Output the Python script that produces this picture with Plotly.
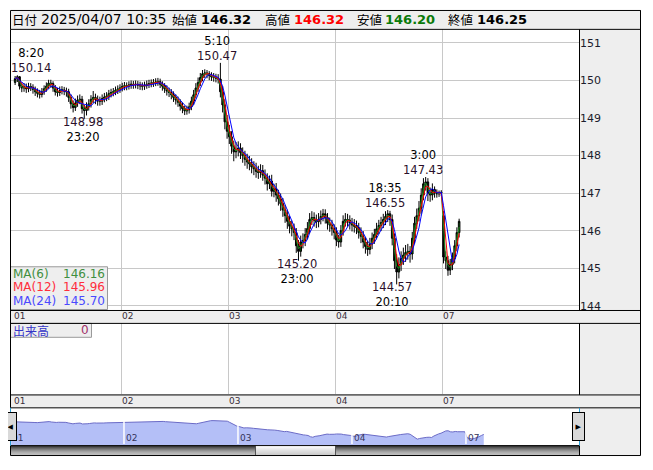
import plotly.graph_objects as go
import pandas as pd

# page has an 8px body margin; figure sized to fit inside the 653x470 window
W, H = 637, 454
OX, OY = 8, 8

# ---------------- data (30-minute bars, USD/JPY, 2025/04/01 07:00 - 04/07 10:35) -------------
opens = [
    149.95, 150.05, 150.10, 149.85, 149.80, 149.83, 149.78, 149.84, 149.82, 149.76, 149.70, 149.66, 149.63, 149.70, 149.78, 149.85,
    149.93, 149.92, 149.80, 149.70, 149.68, 149.73, 149.75, 149.72, 149.70, 149.55, 149.38, 149.28, 149.40, 149.48, 149.50, 149.25,
    149.20, 149.30, 149.38, 149.50, 149.55, 149.50, 149.45, 149.45, 149.52, 149.56, 149.58, 149.65, 149.68, 149.70, 149.74, 149.77,
    149.80, 149.84, 149.86, 149.85, 149.88, 149.90, 149.89, 149.90, 149.88, 149.86, 149.85, 149.87, 149.90, 149.92, 149.93, 149.94,
    149.96, 149.97, 149.90, 149.85, 149.78, 149.72, 149.68, 149.62, 149.55, 149.48, 149.42, 149.32, 149.25, 149.19, 149.22, 149.30,
    149.45, 149.62, 149.80, 149.95, 150.08, 150.18, 150.20, 150.18, 150.13, 150.10, 150.08, 150.06, 150.04, 149.70, 149.35, 148.90,
    148.65, 148.50, 148.25, 148.10, 148.15, 148.20, 148.08, 148.00, 147.90, 147.83, 147.78, 147.70, 147.65, 147.58, 147.55, 147.60,
    147.48, 147.40, 147.25, 147.32, 147.05, 147.12, 146.95, 146.85, 146.72, 146.55, 146.40, 146.25, 146.12, 146.05, 145.95, 145.60,
    145.45, 145.70, 145.74, 145.90, 146.06, 146.30, 146.35, 146.28, 146.24, 146.30, 146.38, 146.45, 146.35, 146.20, 146.15, 146.05,
    145.95, 145.75, 145.70, 146.00, 146.25, 146.30, 146.28, 146.20, 146.15, 146.12, 146.08, 145.95, 145.85, 145.70, 145.58, 145.50,
    145.65, 145.80, 145.90, 146.05, 146.14, 146.22, 146.30, 146.38, 146.45, 146.30, 145.80, 145.20, 144.90, 145.10, 145.26, 145.35,
    145.42, 145.45, 145.38, 145.80, 146.20, 146.40, 146.60, 146.95, 147.25, 147.30, 147.00, 146.95, 147.10, 147.02, 146.98, 147.00,
    146.40, 145.30, 145.20, 144.95, 145.10, 145.26, 145.60, 145.95,
]
highs = [
    150.12, 150.14, 150.12, 149.95, 149.93, 149.92, 149.94, 149.93, 149.90, 149.84, 149.79, 149.75, 149.80, 149.87, 149.95, 150.02,
    150.02, 149.98, 149.88, 149.80, 149.84, 149.85, 149.83, 149.81, 149.78, 149.63, 149.47, 149.52, 149.60, 149.63, 149.59, 149.35,
    149.42, 149.50, 149.61, 149.72, 149.65, 149.60, 149.57, 149.63, 149.67, 149.69, 149.75, 149.78, 149.80, 149.84, 149.87, 149.90,
    149.94, 149.96, 149.95, 149.98, 150.00, 149.99, 150.00, 149.99, 149.97, 149.95, 149.97, 150.00, 150.02, 150.03, 150.04, 150.06,
    150.07, 150.05, 149.98, 149.93, 149.87, 149.81, 149.77, 149.71, 149.63, 149.57, 149.50, 149.41, 149.33, 149.33, 149.41, 149.57,
    149.75, 149.93, 150.08, 150.20, 150.28, 150.30, 150.28, 150.25, 150.22, 150.20, 150.18, 150.17, 150.47, 149.85, 149.50, 149.08,
    148.82, 148.65, 148.40, 148.36, 148.38, 148.33, 148.22, 148.13, 148.05, 147.99, 147.93, 147.85, 147.81, 147.73, 147.77, 147.75,
    147.63, 147.53, 147.47, 147.49, 147.25, 147.27, 147.09, 146.99, 146.87, 146.69, 146.56, 146.39, 146.27, 146.19, 146.07, 145.75,
    145.87, 145.93, 146.07, 146.23, 146.47, 146.52, 146.49, 146.43, 146.47, 146.54, 146.58, 146.57, 146.47, 146.35, 146.29, 146.17,
    146.09, 145.89, 146.15, 146.41, 146.47, 146.45, 146.41, 146.34, 146.31, 146.27, 146.21, 146.09, 145.99, 145.83, 145.73, 145.81,
    145.95, 146.05, 146.21, 146.29, 146.37, 146.45, 146.52, 146.55, 146.53, 146.43, 145.93, 145.37, 145.29, 145.45, 145.55, 145.62,
    145.65, 145.59, 145.97, 146.37, 146.59, 146.79, 147.13, 147.40, 147.43, 147.40, 147.15, 147.26, 147.18, 147.10, 147.07, 147.08,
    146.52, 145.45, 145.33, 145.25, 145.42, 145.75, 146.09, 146.32,
]
lows = [
    149.88, 149.96, 149.76, 149.69, 149.70, 149.67, 149.69, 149.72, 149.65, 149.59, 149.55, 149.52, 149.55, 149.62, 149.70, 149.78,
    149.81, 149.70, 149.60, 149.57, 149.59, 149.63, 149.61, 149.57, 149.43, 149.25, 149.15, 149.19, 149.30, 149.37, 149.12, 148.98,
    149.07, 149.20, 149.28, 149.40, 149.37, 149.33, 149.33, 149.35, 149.42, 149.45, 149.48, 149.55, 149.58, 149.61, 149.64, 149.67,
    149.71, 149.74, 149.74, 149.76, 149.78, 149.78, 149.79, 149.77, 149.75, 149.74, 149.75, 149.78, 149.80, 149.82, 149.83, 149.85,
    149.86, 149.80, 149.73, 149.67, 149.60, 149.56, 149.50, 149.43, 149.36, 149.30, 149.20, 149.13, 149.08, 149.09, 149.12, 149.21,
    149.35, 149.52, 149.70, 149.85, 149.98, 150.07, 150.06, 150.01, 149.99, 149.97, 149.95, 149.92, 149.55, 149.15, 148.70, 148.45,
    148.31, 148.05, 147.85, 147.93, 147.98, 147.91, 147.81, 147.73, 147.65, 147.61, 147.53, 147.48, 147.41, 147.38, 147.41, 147.33,
    147.23, 147.07, 147.11, 146.91, 146.89, 146.77, 146.67, 146.53, 146.37, 146.21, 146.05, 145.93, 145.85, 145.75, 145.41, 145.20,
    145.31, 145.53, 145.59, 145.77, 145.93, 146.15, 146.11, 146.07, 146.09, 146.17, 146.25, 146.19, 146.03, 145.97, 145.87, 145.77,
    145.59, 145.55, 145.57, 145.87, 146.11, 146.11, 146.03, 145.98, 145.95, 145.91, 145.79, 145.67, 145.53, 145.39, 145.33, 145.37,
    145.51, 145.65, 145.77, 145.91, 145.99, 146.07, 146.15, 146.23, 146.13, 145.61, 144.98, 144.57, 144.73, 144.93, 145.09, 145.17,
    145.23, 145.15, 145.23, 145.65, 146.05, 146.25, 146.45, 146.81, 147.07, 146.79, 146.77, 146.81, 146.88, 146.88, 146.90, 146.92,
    145.13, 144.98, 144.80, 144.82, 144.95, 145.13, 145.45, 145.82,
]
closes = [
    150.05, 150.10, 149.85, 149.80, 149.83, 149.78, 149.84, 149.82, 149.76, 149.70, 149.66, 149.63, 149.70, 149.78, 149.85, 149.93,
    149.92, 149.80, 149.70, 149.68, 149.73, 149.75, 149.72, 149.70, 149.55, 149.38, 149.28, 149.40, 149.48, 149.50, 149.25, 149.20,
    149.30, 149.38, 149.50, 149.55, 149.50, 149.45, 149.45, 149.52, 149.56, 149.58, 149.65, 149.68, 149.70, 149.74, 149.77, 149.80,
    149.84, 149.86, 149.85, 149.88, 149.90, 149.89, 149.90, 149.88, 149.86, 149.85, 149.87, 149.90, 149.92, 149.93, 149.94, 149.96,
    149.97, 149.90, 149.85, 149.78, 149.72, 149.68, 149.62, 149.55, 149.48, 149.42, 149.32, 149.25, 149.19, 149.22, 149.30, 149.45,
    149.62, 149.80, 149.95, 150.08, 150.18, 150.20, 150.18, 150.13, 150.10, 150.08, 150.06, 150.04, 149.70, 149.35, 148.90, 148.65,
    148.50, 148.25, 148.10, 148.15, 148.20, 148.08, 148.00, 147.90, 147.83, 147.78, 147.70, 147.65, 147.58, 147.55, 147.60, 147.48,
    147.40, 147.25, 147.32, 147.05, 147.12, 146.95, 146.85, 146.72, 146.55, 146.40, 146.25, 146.12, 146.05, 145.95, 145.60, 145.45,
    145.70, 145.74, 145.90, 146.06, 146.30, 146.35, 146.28, 146.24, 146.30, 146.38, 146.45, 146.35, 146.20, 146.15, 146.05, 145.95,
    145.75, 145.70, 146.00, 146.25, 146.30, 146.28, 146.20, 146.15, 146.12, 146.08, 145.95, 145.85, 145.70, 145.58, 145.50, 145.65,
    145.80, 145.90, 146.05, 146.14, 146.22, 146.30, 146.38, 146.45, 146.30, 145.80, 145.20, 144.90, 145.10, 145.26, 145.35, 145.42,
    145.45, 145.38, 145.80, 146.20, 146.40, 146.60, 146.95, 147.25, 147.30, 147.00, 146.95, 147.10, 147.02, 146.98, 147.00, 147.02,
    145.30, 145.20, 144.95, 145.10, 145.26, 145.60, 145.95, 146.25,
]
assert len(opens) == len(highs) == len(lows) == len(closes) == 200

BAR_HOURS = 0.5                      # 30-minute bars, trading hours counted from 04/01 07:00 (weekend skipped)
day_labels = ["01", "02", "03", "04", "07"]
day_starts = [0, 24, 48, 72, 96]      # session hour where each day begins
price_ticks = [144, 145, 146, 147, 148, 149, 150, 151]

# moving averages (periods in 5-minute bars in the label; windows in 30-minute bars used here)
ma_names = ["MA(6)", "MA(12)", "MA(24)"]
ma_windows = [2, 3, 5]
ma_colors = ["#1e8c1e", "#ff0000", "#0000ff"]
ma_text_colors = ["#3f8f3f", "#ff2d3c", "#4a4aff"]
ma_last = ["146.16", "145.96", "145.70"]

# header (last 5-minute bar)
hdr_date = "2025/04/07 10:35"
hdr_open, hdr_high, hdr_low, hdr_close = "146.32", "146.32", "146.20", "146.25"

# labelled extremes: (time text, price, kind)
extremes = [("8:20", 150.14, "high"), ("23:20", 148.98, "low"), ("5:10", 150.47, "high"),
            ("23:00", 145.20, "low"), ("18:35", 146.55, "high"), ("20:10", 144.57, "low"),
            ("3:00", 147.43, "high")]
extreme_xshift = [14, -1, -3, -1.5, -3, -4.5, -3]

# ---------------- helpers (x, y given in window pixels) ---------------------------------------------------------
def px(x):
    return (x - OX) / W

def py(y):
    return 1 - (y - OY) / H

bar_t = [BAR_HOURS * i + BAR_HOURS / 2 for i in range(len(closes))]
cs = pd.Series(closes)

FONT = "DejaVu Sans"
JP = "Noto Sans CJK JP"
GRID = "#c8c8c8"
PANEL = "#eeeeee"

fig = go.Figure()

fig.add_trace(go.Candlestick(
    x=bar_t, open=opens, high=highs, low=lows, close=closes,
    increasing=dict(line=dict(color="#000000", width=1), fillcolor="#0b6e0b"),
    decreasing=dict(line=dict(color="#000000", width=1), fillcolor="#000000"),
    whiskerwidth=0, showlegend=False, hoverinfo="skip", xaxis="x", yaxis="y"))

for name, win, col in zip(ma_names, ma_windows, ma_colors):
    fig.add_trace(go.Scatter(x=bar_t, y=cs.rolling(win, min_periods=1).mean(), mode="lines",
                             line=dict(color=col, width=1), name=name, showlegend=False,
                             hoverinfo="skip", xaxis="x", yaxis="y"))

# volume panel (no volume for FX)
fig.add_trace(go.Scatter(x=[], y=[], mode="lines", showlegend=False, xaxis="x2", yaxis="y2"))

# navigator
fig.add_trace(go.Scatter(x=bar_t, y=closes, mode="lines", fill="tozeroy", fillcolor="#b4bff7",
                         line=dict(color="#6b6bc6", width=1), showlegend=False, hoverinfo="skip",
                         xaxis="x3", yaxis="y3"))

# ---------------- layout ---------------------------------------------------------------------------------------
X0, X1 = 11, 579
T_PER_PX = 24 / 107.1
t_left = -(14 - X0) * T_PER_PX
t_right = (X1 - 14) * T_PER_PX
Y_TOP, Y_BOT = 29, 312
P_PER_PX = 1 / 37.8
p_top = 150 + (81 - Y_TOP) * P_PER_PX
p_bot = 150 - (Y_BOT - 81) * P_PER_PX

common_x = dict(range=[t_left, t_right], tickvals=day_starts[1:], showgrid=True, gridcolor=GRID,
                gridwidth=1, showticklabels=False, ticks="", zeroline=False, showline=False,
                fixedrange=True)

shapes = []

def rect(x0, y0, x1, y1, fill, line=None, lw=1, layer="below"):
    shapes.append(dict(type="rect", xref="paper", yref="paper", x0=px(x0), x1=px(x1),
                       y0=py(y0), y1=py(y1), fillcolor=fill, layer=layer,
                       line=dict(color=line or "rgba(0,0,0,0)", width=lw if line else 0)))

def hline(y, x0, x1, color="#000", lw=1):
    shapes.append(dict(type="line", xref="paper", yref="paper", x0=px(x0), x1=px(x1),
                       y0=py(y), y1=py(y), line=dict(color=color, width=lw), layer="above"))

def vline(x, y0, y1, color="#000", lw=1):
    shapes.append(dict(type="line", xref="paper", yref="paper", x0=px(x), x1=px(x),
                       y0=py(y0), y1=py(y1), line=dict(color=color, width=lw), layer="above"))

# gray panels
rect(10, 10, 640, 29, PANEL)
rect(579, 29, 640, 312, PANEL)
rect(10, 312, 640, 325, PANEL)
rect(579, 325, 640, 397, PANEL)
rect(10, 397, 640, 410, PANEL)
rect(579, 410, 640, 458, PANEL)

# navigator day separators
for d in day_starts[1:]:
    shapes.append(dict(type="line", xref="x3", yref="paper", x0=d, x1=d, y0=py(447), y1=py(411),
                       line=dict(color="#ffffff", width=1.5), layer="above"))

# scrollbar
sb_cols = ["#3c3c3c", "#555555", "#6a6a6a", "#7e7e7e", "#909090", "#a0a0a0", "#adadad", "#b6b6b6", "#bcbcbc"]
for i, c in enumerate(sb_cols):
    rect(10.5, 449 + i, 579, 450 + i, c, layer="above")
th_cols = ["#ffffff", "#f6f6f6", "#eeeeee", "#e8e8e8", "#e2e2e2", "#dddddd", "#d8d8d8", "#d2d2d2", "#cccccc"]
for i, c in enumerate(th_cols):
    rect(255, 449 + i, 335, 450 + i, c, layer="above")
vline(255.5, 448.5, 458, "#555555")
vline(335.5, 448.5, 458, "#555555")

# MA legend box + volume label box
rect(10.5, 268.5, 107.5, 311.5, "#eeeeee", line="#9a9a9a", layer="above")
rect(10.5, 325.5, 91.5, 339.5, "#eeeeee", line="#9a9a9a", layer="above")

# borders
shapes.append(dict(type="rect", xref="paper", yref="paper", x0=px(10.5), x1=px(640.5), y0=py(10.5),
                   y1=py(29.5), line=dict(color="#000", width=1), layer="above"))
vline(10.5, 29.5, 410.5)
vline(640.5, 10.5, 458.5)
vline(579.5, 29.5, 312.5)
vline(579.5, 325.5, 397.5)
for yy in (312.5, 325.5, 397.5, 410.5, 458.5):
    hline(yy, 10.5, 640.5)
hline(448.5, 10.5, 579.5)
vline(579.5, 448.5, 458.5)
vline(10.5, 448.5, 458.5)
vline(579.5, 410.5, 448.5, "#2a9fd6")
vline(10.5, 410.5, 448.5, "#2a9fd6")

# ---------------- annotations ----------------------------------------------------------------------------------
ann = []

def text(x, y, s, size=12, color="#000", family=FONT, anchor="left", bold=False):
    if bold:
        s = "<b>" + s + "</b>"
    ann.append(dict(x=px(x), y=py(y), xref="paper", yref="paper", text=s, showarrow=False,
                    xanchor=anchor, yanchor="middle", font=dict(family=family, size=size, color=color),
                    borderpad=0))

# header
HY = 19.5
text(11, HY, "日付", 12.5, family=JP)
text(40, HY, hdr_date, 14)
text(171, HY, "始値", 12.5, family=JP)
text(200, HY, hdr_open, 13, bold=True)
text(264, HY, "高値", 12.5, family=JP)
text(293, HY, hdr_high, 13, color="#ff0000", bold=True)
text(356, HY, "安値", 12.5, family=JP)
text(384, HY, hdr_low, 13, color="#0a7a0a", bold=True)
text(447, HY, "終値", 12.5, family=JP)
text(476, HY, hdr_close, 13, bold=True)

# MA legend
for i, (nm, val, col) in enumerate(zip(ma_names, ma_last, ma_text_colors)):
    yy = 275.5 + i * 13.6
    text(11.5, yy, nm, 12, col)
    text(106, yy, val, 12, col, anchor="right")

# volume label
text(11.5, 332.5, "出来高", 12, "#3535c8", family=JP)
text(90, 332.5, "0", 12, "#a0306a", anchor="right")

# date strips
for lab, d in zip(day_labels, day_starts):
    for yy in (318.5, 403.5):
        ann.append(dict(x=d, y=py(yy), xref="x", yref="paper", text=lab, showarrow=False,
                        xanchor="left", yanchor="middle", xshift=-1 if d == 0 else 0,
                        font=dict(family=FONT, size=9, color="#3a2f3a"), borderpad=0))
    ann.append(dict(x=d, y=py(440.5), xref="x3", yref="paper", text=lab, showarrow=False,
                    xanchor="left", yanchor="middle", xshift=1,
                    font=dict(family=FONT, size=9, color="#34345a"), borderpad=0))

# extreme labels (time + price as one two-line label)
for (tm, price, kind), xs in zip(extremes, extreme_xshift):
    idx = highs.index(price) if kind == "high" else lows.index(price)
    t = bar_t[idx]
    p_txt = f"<span style='color:#2a102a'>{price:.2f}</span>"
    if kind == "high":
        s, ys = f"{tm}<br>{p_txt}", 14.5
    else:
        s, ys = f"{p_txt}<br>{tm}", -10.5
    ann.append(dict(x=t, y=price, xref="x", yref="y", text=s, showarrow=False, xanchor="center",
                    yanchor="middle", xshift=xs, yshift=ys, align="center",
                    font=dict(family=FONT, size=11.5, color="#000"), borderpad=0))

# navigator buttons (drawn last so they cover the labels beneath)
for cx, sym in ((10.5, "◀"), (578.5, "▶")):
    ann.append(dict(x=px(cx), y=py(429.5), xref="paper", yref="paper", text=sym, showarrow=False,
                    xanchor="center", yanchor="middle", width=11, height=27, borderpad=0,
                    bgcolor="#d9d9d9", bordercolor="#000000", borderwidth=1,
                    font=dict(family=FONT, size=7, color="#000")))

fig.update_layout(
    width=W, height=H, margin=dict(l=0, r=0, t=0, b=0), boxgap=0,
    paper_bgcolor="#ffffff", plot_bgcolor="#ffffff", showlegend=False,
    xaxis=dict(domain=[px(X0), px(X1)], anchor="y", rangeslider=dict(visible=False), **common_x),
    yaxis=dict(domain=[py(Y_BOT), py(Y_TOP)], anchor="x", range=[p_bot, p_top], side="right",
               tickvals=price_ticks, ticktext=[str(v) for v in price_ticks], showgrid=True,
               gridcolor=GRID, ticks="", zeroline=False, showline=False, fixedrange=True,
               tickfont=dict(family=FONT, size=11, color="#1c1c2c")),
    xaxis2=dict(domain=[px(X0), px(X1)], anchor="y2", **common_x),
    yaxis2=dict(domain=[py(397), py(325)], anchor="x2", range=[0, 1], showgrid=False,
                showticklabels=False, zeroline=False, ticks="", fixedrange=True),
    xaxis3=dict(domain=[px(10), px(579)], anchor="y3", range=[0, 119.8], showgrid=False,
                showticklabels=False, zeroline=False, ticks="", fixedrange=True),
    yaxis3=dict(domain=[py(448), py(410)], anchor="x3", range=[143.2, 154], showgrid=False,
                showticklabels=False, zeroline=False, ticks="", fixedrange=True),
    shapes=shapes, annotations=ann,
)

fig.write_html("out.html")
